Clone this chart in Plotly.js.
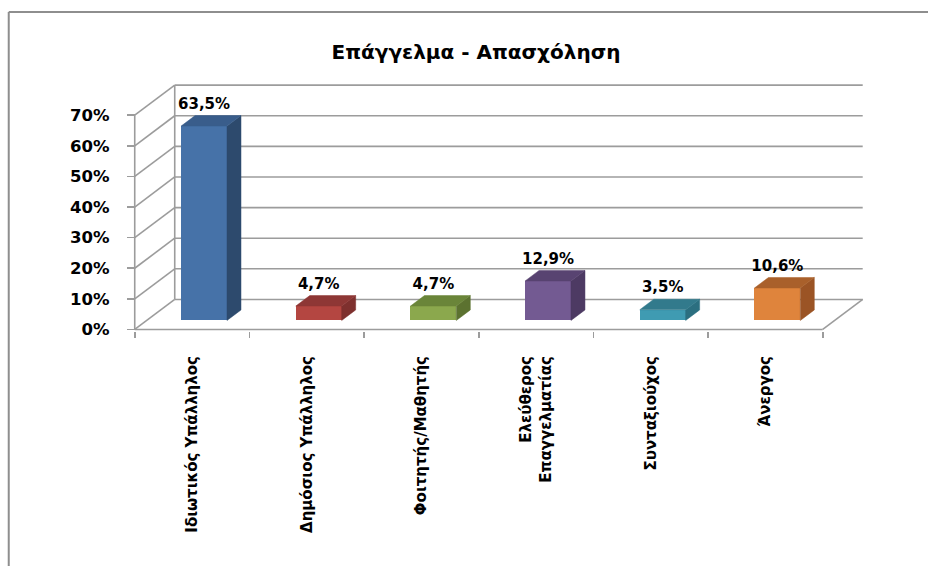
<!DOCTYPE html>
<html>
<head>
<meta charset="utf-8">
<script src="https://cdn.plot.ly/plotly-3.0.1.min.js"></script>
<style>html,body{margin:0;padding:0;background:#fff;}#chart{width:928px;height:566px;}</style>
</head>
<body>
<div id="chart"></div>
<script>
// ---- data ----
const categories = ['Ιδιωτικός Υπάλληλος', 'Δημόσιος Υπάλληλος', 'Φοιτητής/Μαθητής', 'Ελεύθερος<br>Επαγγελματίας', 'Συνταξιούχος', 'Άνεργος'];
const values = [63.5, 4.7, 4.7, 12.9, 3.5, 10.6];
const valueLabels = ['63,5%', '4,7%', '4,7%', '12,9%', '3,5%', '10,6%'];
const yTickVals = [0, 10, 20, 30, 40, 50, 60, 70];
const yTickText = ['0%', '10%', '20%', '30%', '40%', '50%', '60%', '70%'];
const chartTitle = 'Επάγγελμα - Απασχόληση';

// ---- styling ----
const frontColors = ['#4672A8', '#B44641', '#8BA84D', '#735A92', '#3F9BB2', '#DF843C'];
const sideColors  = ['#2D4A6D', '#7E302E', '#5C7230', '#4D3A63', '#2B6F80', '#9B5425'];
const topColors   = ['#395D8B', '#8E3735', '#6A8539', '#584371', '#327A8C', '#A9602B'];
const gridColor = '#9C9C9C';
const FONT = 'DejaVu Sans';

// 3D projection: full depth expressed in axis units
const PX_X = 114.67;           // px per category
const PX_Y = 3.057;            // px per percent
const DX = 40 / PX_X;          // depth shift in x units
const DY = 30 / PX_Y;          // depth shift in y units
const F1 = 0.30, F2 = 0.65;    // bar front/back depth fractions
const BAR_W = 0.40;

const xRange = [-0.55, categories.length - 0.5 + DX + 0.02];
const yRange = [-0.5, 70 + DY + 0.7];
const plotW = (xRange[1] - xRange[0]) * PX_X;
const plotH = (yRange[1] - yRange[0]) * PX_Y;
const mL = 135 - (-0.5 - xRange[0]) * PX_X;
const mB = 566 - (329 + (0 - yRange[0]) * PX_Y);
const mT = 566 - mB - plotH;
const mR = 928 - mL - plotW;

const pxX = px => (px - mL) / plotW;
const pxY = py => (566 - mB - py) / plotH;

// ---- wall / floor shapes (computed from tick values) ----
const shapes = [];
const L = (x0, y0, x1, y1) => shapes.push({type: 'line', xref: 'x', yref: 'y', x0, y0, x1, y1, layer: 'below', line: {color: gridColor, width: 1.6}});
const xl = -0.5, xr = categories.length - 0.5;
yTickVals.forEach(v => {
  L(xl, v, xl + DX, v + DY);
  L(xl + DX, v + DY, xr + DX, v + DY);
});
L(xl, 0, xl, 70);
L(xl + DX, DY, xl + DX, 70 + DY);
L(xl, 0, xr, 0);
L(xr, 0, xr + DX, DY);
// chart border (paper)
shapes.push({type: 'line', xref: 'paper', yref: 'paper', x0: pxX(9), y0: pxY(12), x1: pxX(9), y1: pxY(570), line: {color: '#8E8E8E', width: 2}});
shapes.push({type: 'line', xref: 'paper', yref: 'paper', x0: pxX(9), y0: pxY(12), x1: pxX(930), y1: pxY(12), line: {color: '#8E8E8E', width: 2}});

// ---- traces ----
const traces = [];
traces.push({
  type: 'bar',
  x: values.map((v, i) => i + F1 * DX),
  y: values,
  base: values.map(() => F1 * DY),
  width: BAR_W,
  marker: {color: frontColors, line: {width: 0}},
  hoverinfo: 'none', showlegend: false
});
const ddx = (F2 - F1) * DX, ddy = (F2 - F1) * DY;
values.forEach((v, i) => {
  const cx = i + F1 * DX;
  const x0 = cx - BAR_W / 2, x1 = cx + BAR_W / 2;
  const b = F1 * DY, t = F1 * DY + v;
  traces.push({
    type: 'scatter', mode: 'lines', fill: 'toself', fillcolor: sideColors[i],
    line: {color: sideColors[i], width: 0.5},
    x: [x1, x1, x1 + ddx, x1 + ddx, x1], y: [b, t, t + ddy, b + ddy, b],
    hoverinfo: 'none', showlegend: false
  });
  traces.push({
    type: 'scatter', mode: 'lines', fill: 'toself', fillcolor: topColors[i],
    line: {color: topColors[i], width: 0.5},
    x: [x0, x1, x1 + ddx, x0 + ddx, x0], y: [t, t, t + ddy, t + ddy, t],
    hoverinfo: 'none', showlegend: false
  });
});
traces.push({
  type: 'scatter', mode: 'text',
  x: values.map((v, i) => i + F1 * DX),
  y: values.map(v => v + F2 * DY + 1.0),
  text: valueLabels, textposition: 'top center',
  textfont: {family: FONT, size: 15, color: '#000', weight: 'bold'},
  cliponaxis: false, hoverinfo: 'none', showlegend: false
});

const layout = {
  width: 928, height: 566,
  margin: {l: mL, r: mR, t: mT, b: mB, pad: 0},
  paper_bgcolor: '#fff', plot_bgcolor: 'rgba(0,0,0,0)',
  showlegend: false,
  font: {family: FONT, color: '#000'},
  title: {
    text: chartTitle, xref: 'container', yref: 'container',
    x: 476 / 928, y: 1 - 52 / 566, xanchor: 'center', yanchor: 'middle',
    font: {family: FONT, size: 20, color: '#000', weight: 'bold'}
  },
  xaxis: {
    range: xRange, autorange: false, fixedrange: true,
    tickmode: 'array', tickvals: categories.map((c, i) => i), ticktext: categories,
    tickangle: -90, ticks: 'outside', ticklen: 6, tickcolor: 'rgba(0,0,0,0)',
    ticklabelstandoff: 12,
    minor: {ticks: 'outside', tickmode: 'linear', tick0: -0.5, dtick: 1, ticklen: 6, tickwidth: 1.6, tickcolor: gridColor, showgrid: false},
    tickfont: {family: FONT, size: 15, color: '#000', weight: 'bold'},
    showgrid: false, zeroline: false, showline: false
  },
  yaxis: {
    range: yRange, autorange: false, fixedrange: true,
    anchor: 'free', position: pxX(135),
    tickmode: 'array', tickvals: yTickVals, ticktext: yTickText,
    ticks: 'outside', ticklen: 8, tickwidth: 1.6, tickcolor: gridColor,
    ticklabelstandoff: 14,
    tickfont: {family: FONT, size: 16.5, color: '#000', weight: 'bold'},
    showgrid: false, zeroline: false, showline: false
  },
  shapes: shapes,
  bargap: 0
};

Plotly.newPlot('chart', traces, layout, {staticPlot: true, displayModeBar: false});
</script>
</body>
</html>
